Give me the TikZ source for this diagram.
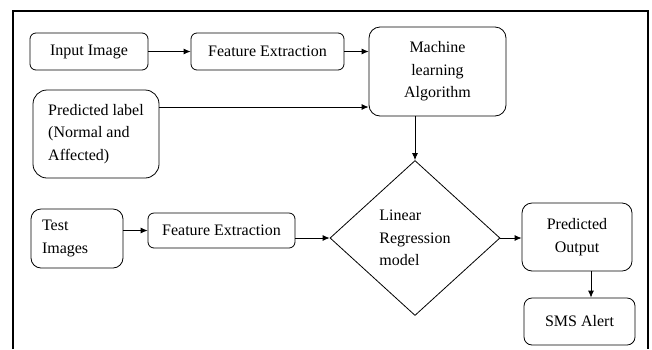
\documentclass[tikz,border=0pt]{standalone}
\usepackage{fontspec}
\setmainfont{Liberation Serif}
\usepackage{tikz}
\usetikzlibrary{positioning, arrows.meta, shapes.geometric}

\begin{document}
\begin{tikzpicture}[
		x=1pt, y=-1pt,
		font=\fontsize{16}{22.5}\selectfont,
		block/.style={
			draw,
			rounded corners=6pt,
			line width=0.8pt,
			align=center,
			inner sep=2pt
		},
		decision/.style={
			draw,
			diamond,
			line width=0.8pt,
			align=left,
			inner sep=0pt
		},
		frame/.style={line width=1.8pt},
		arrow/.style={-{Latex[length=7pt,width=6pt]}, line width=0.8pt}
		]
		
		\useasboundingbox (0,0) rectangle (652,349);
		
		% Outer frame
		\draw[frame] (13,349) -- (13,11) -- (648,11) -- (648,349);
		
		% Blocks
		\node[block, minimum width=118pt, minimum height=37pt] at (89,51.5) (input) {Input Image};
		\node[block, minimum width=153pt, minimum height=37pt] at (267.5,51.5) (featA) {Feature Extraction};
		\node[block, rounded corners=11pt, minimum width=137pt, minimum height=89pt] at (437.5,71.5) (mlalg) {Machine\\learning\\Algorithm};
		\node[block, rounded corners=14pt, align=left, minimum width=126pt, minimum height=88pt] at (96,134) (label) {Predicted label\\(Normal and\\Affected)};
		\node[block, rounded corners=10pt, align=left, text width=70pt, minimum width=92pt, minimum height=59pt] at (77,238.5) (test) {Test\\Images};
		\node[block, minimum width=147pt, minimum height=35pt] at (221.5,230.5) (featB) {Feature Extraction};
		\node[decision, minimum width=170pt, minimum height=155pt] at (415,238) (linreg) {Linear\\Regression\\model};
		\node[block, rounded corners=10pt, minimum width=110pt, minimum height=68pt] at (577,237) (output) {Predicted\\Output};
		\node[block, rounded corners=8pt, minimum width=111pt, minimum height=47pt] at (579.5,321.5) (sms) {SMS Alert};
		
		% Arrows
		\draw[arrow] (input.east) -- (featA.west);
		\draw[arrow] (featA.east) -- (featA.east -| mlalg.west);
		\draw[arrow] ([yshift=27pt]label.east) -- ([yshift=27pt]label.east -| mlalg.west);
		\draw[arrow] (linreg.north |- mlalg.south) -- (linreg.north);
		\draw[arrow] (featB.west -| test.east) -- (featB.west);
		\draw[arrow] (linreg.west -| featB.east) -- (linreg.west);
		\draw[arrow] (linreg.east) -- (linreg.east -| output.west);
		\draw[arrow] ([xshift=14pt]output.south) -- ([xshift=14pt]output.south |- sms.north);
		
	\end{tikzpicture}
\end{document}
